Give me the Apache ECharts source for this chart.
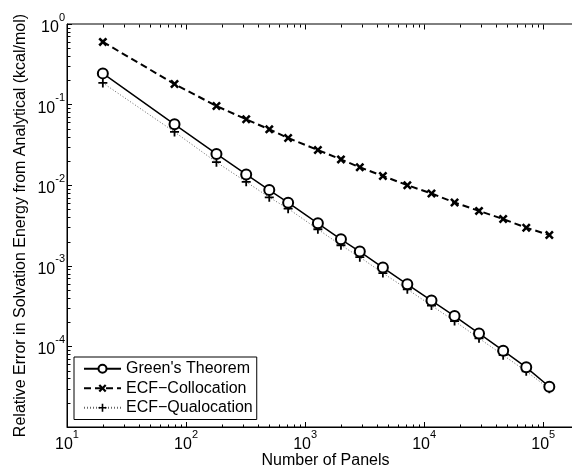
<!DOCTYPE html>
<html>
<head>
<meta charset="utf-8">
<script src="https://cdn.jsdelivr.net/npm/echarts@6/dist/echarts.min.js"></script>
<style>
  html, body { margin: 0; padding: 0; background: #fff; }
  #main { width: 572px; height: 468px; }
</style>
</head>
<body>
<div id="main"></div>
<script>
// number of panels (x) and relative errors (y)
const panels = [20, 80, 180, 320, 500, 720, 1280, 2000, 2880, 4500, 7220, 11520, 18000, 28880, 46080, 72000, 112500]
const greens = [0.244, 0.057, 0.0244, 0.0136, 0.0087, 0.00607, 0.00337, 0.00213, 0.0015, 0.00095, 0.00059, 0.00037, 0.000238, 0.000145, 0.0000885, 0.000055, 0.0000316]
const collocation = [0.60, 0.18, 0.096, 0.0657, 0.0493, 0.0385, 0.0273, 0.0209, 0.0167, 0.0130, 0.0100, 0.0079, 0.0061, 0.0048, 0.0038, 0.00297, 0.00241]
const qualocation = [0.186, 0.0458, 0.0193, 0.0110, 0.00707, 0.00512, 0.00284, 0.00180, 0.00128, 0.000812, 0.000512, 0.000321, 0.000206, 0.000126, 0.0000778, 0.0000491, 0.0000298]
const seriesNames = ["Green's Theorem", 'ECF\u2212Collocation', 'ECF\u2212Qualocation']

const xMin = 10, xMax = 2.2e5
const yMin = 1e-5, yMax = 1
const font = 'Helvetica, "Liberation Sans", Arial, sans-serif'

const pts = (ys) => panels.map((p, i) => [p, ys[i]])

// 10^n labels with a raised exponent, only on whole decades
const powLabel = (v) => {
  const e = Math.log10(v)
  if (Math.abs(e - Math.round(e)) > 1e-6) return ''
  return '{b|10}{e|' + Math.round(e) + '}'
}
const labelRich = {
  b: { fontSize: 16, fontFamily: font, color: '#000', padding: [7, 0, 0, 0] },
  e: { fontSize: 11, fontFamily: font, color: '#000', padding: [0, 0, 13, 0] }
}

// 2..9 x 10^d positions between lo and hi
const minorVals = (lo, hi) => {
  const out = []
  for (let d = Math.floor(Math.log10(lo)); d < Math.ceil(Math.log10(hi)); d++) {
    for (let k = 2; k <= 9; k++) {
      const v = k * Math.pow(10, d)
      if (v > lo && v < hi) out.push(v)
    }
  }
  return out
}
const majorVals = (lo, hi) => {
  const out = []
  for (let d = Math.ceil(Math.log10(lo) - 1e-9); d <= Math.floor(Math.log10(hi) + 1e-9); d++) out.push(Math.pow(10, d))
  return out
}

// matlab style inward ticks on all four sides
const renderTicks = (params, api) => {
  const kids = []
  const style = { stroke: '#000', lineWidth: 1, fill: null }
  const add = (x1, y1, x2, y2) => kids.push({ type: 'line', shape: { x1, y1, x2, y2 }, style })
  const px = (v) => Math.round(api.coord([v, yMin])[0]) + 0.5
  const py = (v) => Math.round(api.coord([xMin, v])[1]) + 0.5
  const left = px(xMin), right = px(xMax), bottom = py(yMin), top = py(yMax)
  minorVals(xMin, xMax).forEach(v => {
    const x = px(v)
    add(x, bottom, x, bottom - 3)
    add(x, top, x, top + 3)
  })
  majorVals(xMin, xMax).forEach(v => {
    const x = px(v)
    add(x, top, x, top + 5)
  })
  minorVals(yMin, yMax).forEach(v => {
    const y = py(v)
    add(left, y, left + 3, y)
    add(right, y, right - 3, y)
  })
  majorVals(yMin, yMax).forEach(v => {
    const y = py(v)
    add(right, y, right - 5, y)
  })
  return { type: 'group', children: kids }
}

const chart = echarts.init(document.getElementById('main'))
const option = {
  animation: false,
  backgroundColor: '#fff',
  textStyle: { fontFamily: font, color: '#000' },
  grid: {
    left: 67, top: 24, width: 517, height: 403,
    outerBoundsMode: 'none', containLabel: false,
    show: true, borderColor: '#000', borderWidth: 1, backgroundColor: 'transparent'
  },
  legend: {
    data: seriesNames,
    orient: 'vertical',
    left: 74, top: 357,
    backgroundColor: '#fff',
    borderColor: '#000', borderWidth: 1, borderRadius: 0,
    padding: [2, 4, 2, 9],
    itemWidth: 37, itemHeight: 10, itemGap: 0,
    textStyle: { fontSize: 16, fontFamily: font, color: '#000', lineHeight: 19.5 }
  },
  xAxis: {
    type: 'log', logBase: 10, min: xMin, max: xMax,
    name: 'Number of Panels', nameLocation: 'middle', nameGap: 26, nameMoveOverlap: false,
    nameTextStyle: { fontSize: 16, fontFamily: font, color: '#000' },
    axisLine: { lineStyle: { color: '#000', width: 1 } },
    axisTick: { inside: true, length: 5, lineStyle: { color: '#000' } },
    axisLabel: { formatter: powLabel, rich: labelRich, margin: 2, showMaxLabel: false },
    splitLine: { show: false }
  },
  yAxis: {
    type: 'log', logBase: 10, min: yMin, max: yMax,
    name: 'Relative Error in Solvation Energy from Analytical (kcal/mol)',
    nameLocation: 'middle', nameGap: 38, nameMoveOverlap: false,
    nameTextStyle: { fontSize: 16, fontFamily: font, color: '#000' },
    axisLine: { lineStyle: { color: '#000', width: 1 } },
    axisTick: { inside: true, length: 5, lineStyle: { color: '#000' } },
    axisLabel: { formatter: powLabel, rich: labelRich, margin: 2, showMinLabel: false },
    splitLine: { show: false }
  },
  series: [
    {
      type: 'custom', silent: true, renderItem: renderTicks,
      data: [[xMin, yMin]], z: 1
    },
    {
      name: seriesNames[2], type: 'line', data: pts(qualocation),
      symbol: 'path://M4,0H6V4H10V6H6V10H4V6H0V4H4Z', symbolSize: 9,
      itemStyle: { color: '#000' },
      lineStyle: { color: '#666', width: 1, type: [1, 2] }, z: 3
    },
    {
      name: seriesNames[1], type: 'line', data: pts(collocation),
      symbol: 'path://M2,0L5,3L8,0L10,2L7,5L10,8L8,10L5,7L2,10L0,8L3,5L0,2Z', symbolSize: 9,
      itemStyle: { color: '#000' },
      lineStyle: { color: '#000', width: 2, type: [7, 4] }, z: 4
    },
    {
      name: seriesNames[0], type: 'line', data: pts(greens),
      symbol: 'emptyCircle', symbolSize: 10,
      itemStyle: { color: '#000', borderColor: '#000', borderWidth: 1.5 },
      lineStyle: { color: '#000', width: 1.5 }, z: 5
    }
  ]
}
chart.setOption(option)
window.addEventListener('resize', () => chart.resize())
</script>
</body>
</html>
